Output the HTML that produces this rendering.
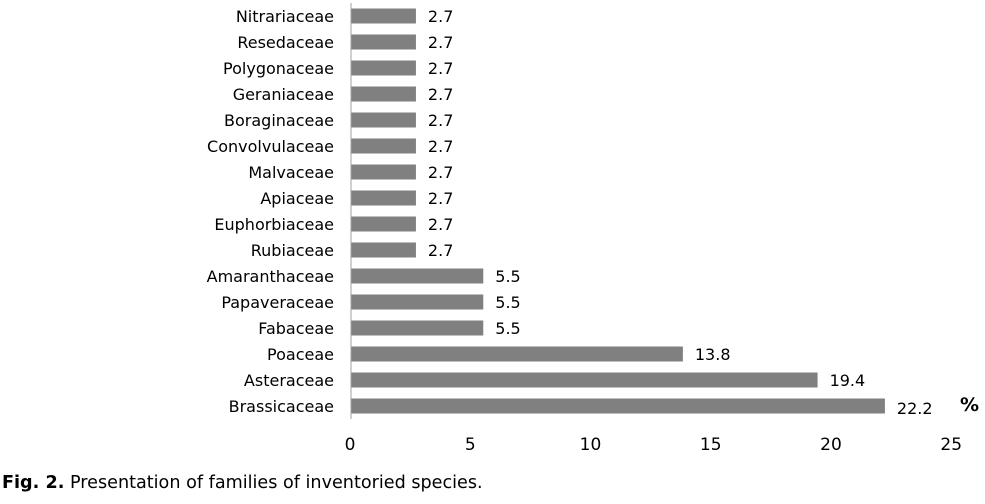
<!DOCTYPE html>
<html><head><meta charset="utf-8"><style>
body{margin:0;background:#fff;}
svg text{font-family:"DejaVu Sans","Liberation Sans",sans-serif;fill:#000;}
</style></head><body>
<svg width="985" height="499" xmlns="http://www.w3.org/2000/svg">
<g id="bars"></g>
<g id="labels"></g>
<g id="ticks"></g>
<line x1="351" y1="3" x2="351" y2="419" stroke="#a0a0a0" stroke-width="1"/>
<text x="960" y="411" font-size="19" font-weight="bold">%</text>
<text x="2" y="488" font-size="17.6"><tspan font-weight="bold">Fig. 2.</tspan> Presentation of families of inventoried species.</text>
</svg>
<script>
const categories=["Nitrariaceae","Resedaceae","Polygonaceae","Geraniaceae","Boraginaceae","Convolvulaceae","Malvaceae","Apiaceae","Euphorbiaceae","Rubiaceae","Amaranthaceae","Papaveraceae","Fabaceae","Poaceae","Asteraceae","Brassicaceae"];
const values=[2.7,2.7,2.7,2.7,2.7,2.7,2.7,2.7,2.7,2.7,5.5,5.5,5.5,13.8,19.4,22.2];
const tickValues=[0,5,10,15,20,25];
const ns="http://www.w3.org/2000/svg";
const x0=351,k=24.05,plotTop=3,band=26,bh=15;
const xs=v=>x0+v*k;
const yc=i=>plotTop+band*i+band/2;
const gb=document.getElementById('bars'),gl=document.getElementById('labels'),gt=document.getElementById('ticks');
categories.forEach((c,i)=>{
 const r=document.createElementNS(ns,'rect');
 
 
 r.setAttribute('x',x0);r.setAttribute('y',yc(i)-bh/2);
 r.setAttribute('width',xs(values[i])-x0);r.setAttribute('height',bh);
 r.setAttribute('fill','#808080');gb.appendChild(r);
 const t=document.createElementNS(ns,'text');
 
 
 t.setAttribute('x',334);t.setAttribute('y',yc(i)+6);t.setAttribute('font-size','16');
 t.setAttribute('text-anchor','end');t.textContent=c;gl.appendChild(t);
 const v=document.createElementNS(ns,'text');
 
 
 v.setAttribute('x',xs(values[i])+12);v.setAttribute('y',yc(i)+(i==15?8:6));v.setAttribute('font-size','16');
 v.textContent=values[i];gl.appendChild(v);
});
tickValues.forEach(tv=>{
 const t=document.createElementNS(ns,'text');
 
 
 t.setAttribute('x',xs(tv)-1);t.setAttribute('y',450);t.setAttribute('font-size','17');
 t.setAttribute('text-anchor','middle');t.textContent=tv;gt.appendChild(t);
});
</script>
</body></html>
